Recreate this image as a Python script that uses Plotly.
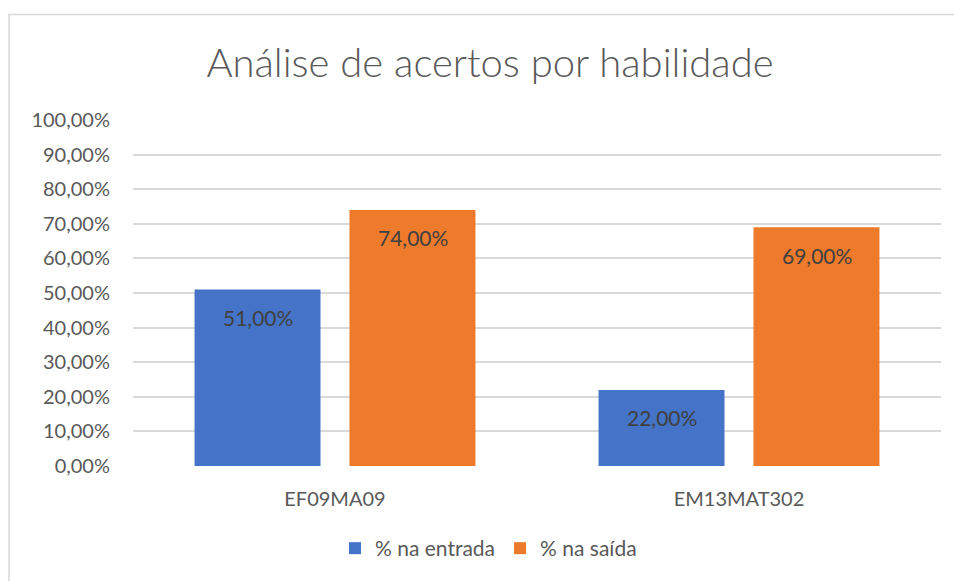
import plotly.graph_objects as go

categories = ["EF09MA09", "EM13MAT302"]
series_names = ["% na entrada", "% na saída"]
entrada = [0.51, 0.22]
saida = [0.74, 0.69]
series_values = [entrada, saida]
series_colors = ["#4473C8", "#EE7A2C"]
y_ticks = [i / 10 for i in range(11)]

FONT = "Lato"

def fmt(v):
    return f"{v * 100:.2f}".replace(".", ",") + "%"

fig = go.Figure()
for name, vals, col in zip(series_names, series_values, series_colors):
    fig.add_trace(go.Bar(
        x=categories, y=vals, name=name,
        marker=dict(color=col, line=dict(width=0)),
        hoverinfo="skip",
    ))

annotations = []
shifts = [-77.5, 77.5]
for vals, sh in zip(series_values, shifts):
    for c, v in zip(categories, vals):
        annotations.append(dict(
            x=c, y=v, xref="x", yref="y", text=fmt(v), showarrow=False,
            xshift=sh, yshift=-28, yanchor="middle",
            font=dict(family=FONT, size=21, color="#404040"),
        ))

fig.update_layout(
    width=954, height=581,
    margin=dict(l=133, r=13, t=120, b=113),
    paper_bgcolor="white", plot_bgcolor="white",
    separators=",.",
    barmode="group", bargap=0.233, bargroupgap=0.187,
    title=dict(text="Análise de acertos por habilidade", x=490 / 954, xanchor="center",
               y=1 - 63 / 581, yanchor="middle",
               font=dict(family=FONT, size=40, color="#595959", weight=300)),
    xaxis=dict(showgrid=False, showline=False, ticks="", zeroline=False,
               tickfont=dict(family=FONT, size=20, color="#595959"),
               ticklabelstandoff=19),
    yaxis=dict(range=[0, 1.0], tickvals=y_ticks, tickformat=".2%",
               showgrid=True, gridcolor="#D9D9D9", gridwidth=1.5,
               zeroline=False, showline=False, ticks="",
               tickfont=dict(family=FONT, size=20, color="#595959"),
               ticklabelstandoff=22),
    legend=dict(orientation="h", x=0.44, xanchor="center", y=-0.2385, yanchor="middle",
                font=dict(family=FONT, size=21, color="#595959"),
                itemwidth=30, traceorder="normal"),
    annotations=annotations,
    shapes=[dict(type="rect", xref="paper", yref="paper",
                 x0=(9 - 133) / 808, x1=1.2, y0=-0.6, y1=(468 - 14) / 348,
                 line=dict(color="#D9D9D9", width=1.5), fillcolor="rgba(0,0,0,0)",
                 layer="below")],
)

fig.write_html("out.html")
